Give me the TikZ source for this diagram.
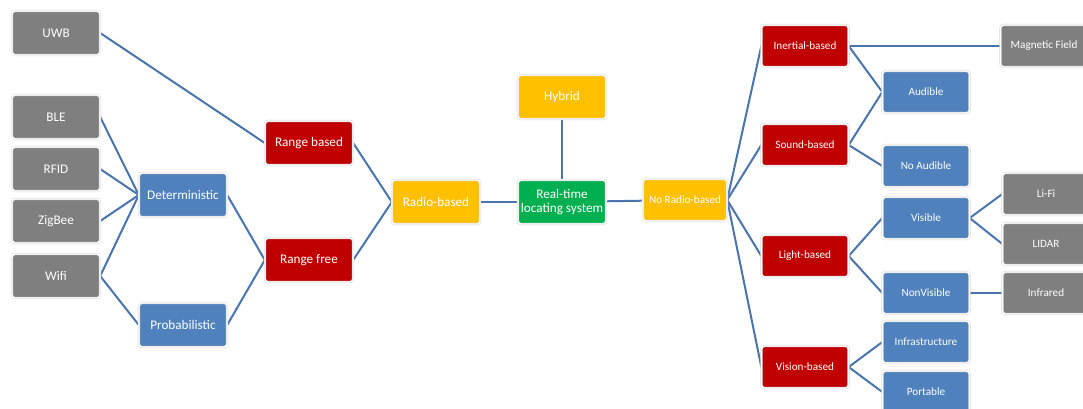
\documentclass[tikz,border=0pt]{standalone}
\usepackage{fontspec}
\setmainfont{Carlito}
\usetikzlibrary{positioning,backgrounds}
\definecolor{techgray}{HTML}{7F7F7F}
\definecolor{crimson}{HTML}{C00000}
\definecolor{steel}{HTML}{4F81BD}
\definecolor{amber}{HTML}{FFC000}
\definecolor{leaf}{HTML}{00B050}
\definecolor{linkblue}{HTML}{4A74AC}

\begin{document}
\begin{tikzpicture}[
  x=1pt, y=-1pt,
  % Styles
  box/.style={rounded corners=3pt, draw=black!18, double=white, double distance=1.4pt,
    line width=0.4pt, text=white, align=center, inner sep=2pt},
  bigbox/.style={box, minimum width=88pt, minimum height=44pt, font=\fontsize{13.2}{14}\selectfont},
  smallbox/.style={box, minimum width=87pt, minimum height=42pt, font=\fontsize{11.2}{13}\selectfont},
  tech/.style={bigbox, fill=techgray},
  techr/.style={smallbox, fill=techgray},
  method/.style={bigbox, fill=steel},
  methodr/.style={smallbox, fill=steel},
  family/.style={bigbox, fill=crimson},
  familyr/.style={smallbox, fill=crimson},
  branch/.style={bigbox, fill=amber},
  root/.style={bigbox, fill=leaf, font=\fontsize{13.2}{14}\selectfont},
  link/.style={draw=linkblue, line width=2pt},
]
\useasboundingbox (0,0) rectangle (1083,408);

% === Radio technologies ===
\node[tech] (uwb) at (56,33) {UWB};
\node[tech] (ble) at (56,117) {BLE};
\node[tech] (rfid) at (56,169) {RFID};
\node[tech] (zigbee) at (56,221) {ZigBee};
\node[tech] (wifi) at (56,276) {Wifi};

% === Radio methods ===
\node[method] (det) at (183,195) {Deterministic};
\node[method] (prob) at (183,325) {Probabilistic};
\node[family] (rbased) at (309,143) {Range based};
\node[family] (rfree) at (309,260) {Range free};

% === Centre ===
\node[branch] (radio) at (436,202) {Radio-based};
\node[root] (rtls) at (562,202) {Real-time\\locating system};
\node[branch] (hybrid) at (562,97) {Hybrid};
\node[branch, smallbox, minimum width=84pt] (noradio) at (685,200) {No Radio-based};

% === Non-radio families ===
\node[familyr] (inertial) at (805,46) {Inertial-based};
\node[familyr] (sound) at (805,145) {Sound-based};
\node[familyr] (light) at (805,256) {Light-based};
\node[familyr] (vision) at (805,367) {Vision-based};

% === Non-radio methods ===
\node[methodr] (audible) at (926,92) {Audible};
\node[methodr] (noaudible) at (926,166) {No Audible};
\node[methodr] (visible) at (926,218) {Visible};
\node[methodr] (nonvisible) at (926,293) {NonVisible};
\node[methodr] (infra) at (926,342) {Infrastructure};
\node[methodr] (portable) at (926,392) {Portable};

% === Non-radio technologies ===
\node[techr] (magnetic) at (1044,46) {Magnetic Field};
\node[techr] (lifi) at (1046,194) {Li-Fi};
\node[techr] (lidar) at (1046,244) {LIDAR};
\node[techr] (infrared) at (1046,293) {Infrared};

% === Connectors ===
\begin{scope}[on background layer]
\draw[link] (uwb.east) -- (rbased.west);
\foreach \src in {ble,rfid,zigbee,wifi}
  \draw[link] (\src.east) -- (det.west);
\draw[link] (wifi.east) -- (prob.west);
\draw[link] (det.east) -- (rfree.west);
\draw[link] (prob.east) -- (rfree.west);
\draw[link] (rbased.east) -- (radio.west);
\draw[link] (rfree.east) -- (radio.west);
\draw[link] (radio) -- (rtls);
\draw[link] (hybrid) -- (rtls);
\draw[link] (rtls) -- (noradio);
\foreach \dst in {inertial,sound,light,vision}
  \draw[link] (noradio.east) -- (\dst.west);
\draw[link] (inertial.east) -- (magnetic.west);
\draw[link] (inertial.east) -- (audible.west);
\draw[link] (sound.east) -- (audible.west);
\draw[link] (sound.east) -- (noaudible.west);
\draw[link] (light.east) -- (visible.west);
\draw[link] (light.east) -- (nonvisible.west);
\draw[link] (vision.east) -- (infra.west);
\draw[link] (vision.east) -- (portable.west);
\draw[link] (visible.east) -- (lifi.west);
\draw[link] (visible.east) -- (lidar.west);
\draw[link] (nonvisible.east) -- (infrared.west);
\end{scope}

\end{tikzpicture}
\end{document}
